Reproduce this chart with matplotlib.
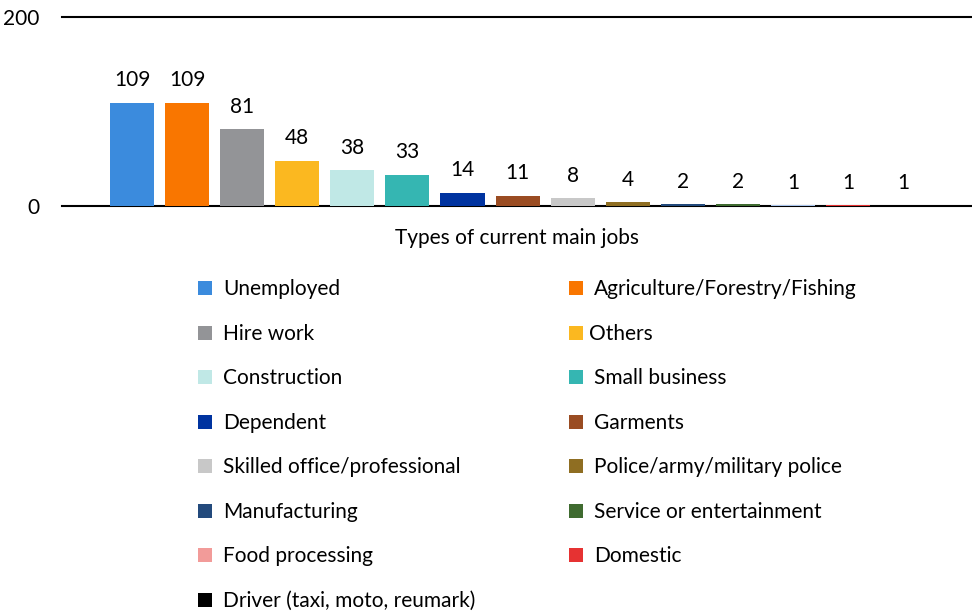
import matplotlib.pyplot as plt
from matplotlib.patches import Rectangle

plt.rcParams['font.family'] = ['Lato', 'DejaVu Sans']

jobs = ['Unemployed', 'Agriculture/Forestry/Fishing', 'Hire work', 'Others',
        'Construction', 'Small business', 'Dependent', 'Garments',
        'Skilled office/professional', 'Police/army/military police',
        'Manufacturing', 'Service or entertainment', 'Food processing',
        'Domestic', 'Driver (taxi, moto, reumark)']
counts = [109, 109, 81, 48, 38, 33, 14, 11, 8, 4, 2, 2, 1, 1, 1]
bar_colors = ['#3b8bdd', '#f97600', '#939497', '#fbb820', '#c0e8e6',
              '#35b6b2', '#0033a0', '#9a4c22', '#c8c8c8', '#8f6e22',
              '#234a7c', '#3f6b30', '#a9c4eb', '#e63232', '#000000']
# legend swatch for food processing is pink even though its bar is light blue
legend_colors = bar_colors[:12] + ['#f29b99', '#e63232', '#000000']

W, H = 972, 611
fig = plt.figure(figsize=(W / 100, H / 100), dpi=100)
ax = fig.add_axes([62 / W, 1 - 206 / H, (972 - 62) / W, (206 - 17) / H])

x = range(len(counts))
# bars above the baseline so the tiny ones stay visible
bars = ax.bar(x, counts, width=0.8, color=bar_colors, zorder=3)
ax.bar_label(bars, labels=[str(c) for c in counts], padding=9, fontsize=15)

ax.set_xlim(-1.27, len(counts) + 0.25)
ax.set_ylim(0, 200)
ax.set_yticks([0, 200])
ax.set_xticks([])
ax.tick_params(axis='y', length=0, pad=16, labelsize=15)
for side in ('left', 'right'):
    ax.spines[side].set_visible(False)
for side in ('top', 'bottom'):
    ax.spines[side].set_color('black')
    ax.spines[side].set_linewidth(1.5)
ax.set_xlabel('Types of current main jobs', fontsize=15, labelpad=16)

# two-column legend laid out row by row
for i, (name, col) in enumerate(zip(jobs, legend_colors)):
    row, c = divmod(i, 2)
    x0 = [198, 569][c]
    yc = 288 + row * 44.57
    fig.add_artist(Rectangle((x0 / W, 1 - (yc + 7) / H), 14 / W, 14 / H,
                             transform=fig.transFigure, color=col, lw=0))
    tx = x0 + 25 if name != 'Others' else x0 + 20
    fig.text(tx / W, 1 - (yc + 7) / H, name, fontsize=15, va='baseline',
             ha='left')

fig.savefig('out.png', dpi=100)
